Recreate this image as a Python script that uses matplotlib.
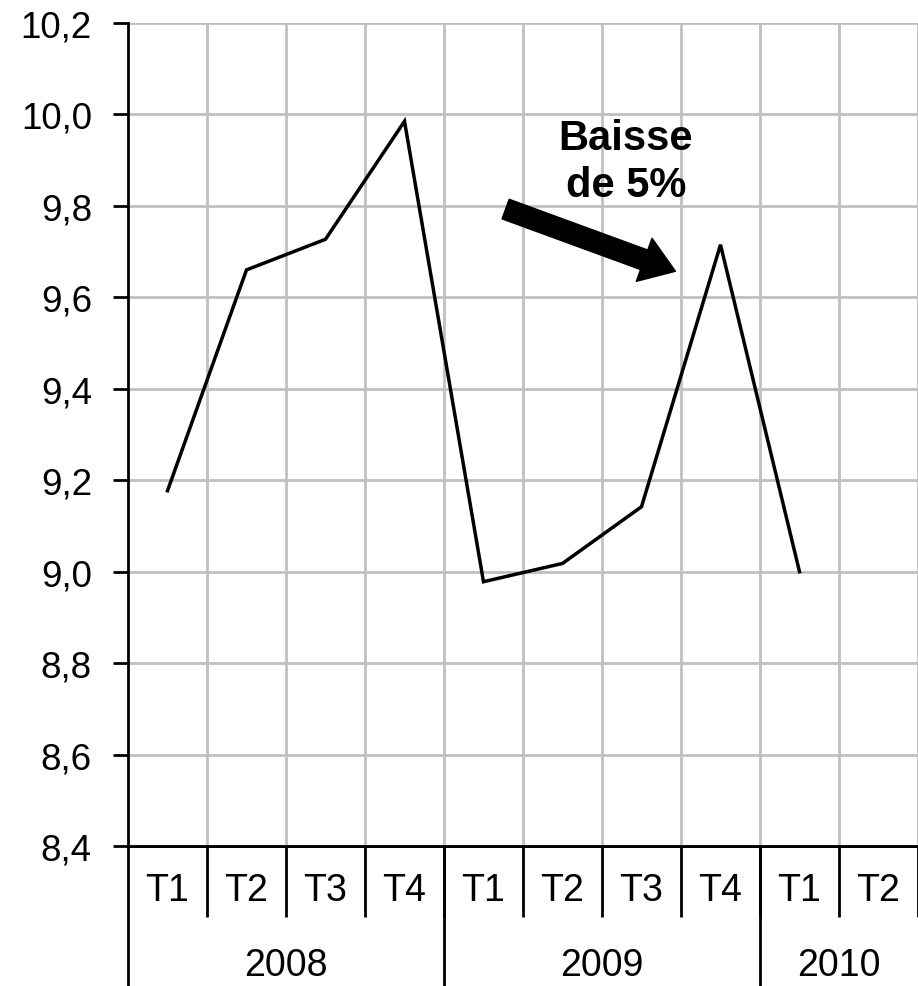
import matplotlib
matplotlib.use('Agg')
from matplotlib import pyplot as plt

plt.rcParams['font.family'] = ['Liberation Sans', 'DejaVu Sans']

quarters = ['T1', 'T2', 'T3', 'T4', 'T1', 'T2', 'T3', 'T4', 'T1', 'T2']
years = ['2008', '2009', '2010']
year_sizes = [4, 4, 2]
values = [9.177, 9.660, 9.727, 9.985, 8.978, 9.018, 9.142, 9.715, 9.000]
y_ticks = [8.4, 8.6, 8.8, 9.0, 9.2, 9.4, 9.6, 9.8, 10.0, 10.2]

FS = 27
W, H = 918, 987
fig = plt.figure(figsize=(W / 100, H / 100), dpi=100)
ax = fig.add_axes([128 / W, 1 - 847 / H, 790 / W, 823 / H])

x = list(range(len(values)))
ax.plot(x, values, color='black', lw=2.5, solid_joinstyle='miter', zorder=3)

ax.set_xlim(-0.5, len(quarters) - 0.5)
ax.set_ylim(y_ticks[0], y_ticks[-1])
ax.set_yticks(y_ticks)
ax.set_yticklabels([f'{v:.1f}'.replace('.', ',') for v in y_ticks], fontsize=26.5)

# quarter labels + separators
ax.set_xticks(range(len(quarters)))
ax.set_xticklabels(quarters, fontsize=FS)
bounds = [i + 0.5 for i in range(len(quarters))]
ax.set_xticks(bounds, minor=True)
ax.tick_params(axis='x', which='major', length=0, pad=19)
ax.tick_params(axis='x', which='minor', length=51, width=2, direction='out')
ax.tick_params(axis='y', length=11, width=2, direction='out', pad=15)

# year labels + long separators
starts = [sum(year_sizes[:i]) for i in range(len(year_sizes))]
year_centers = [s + n / 2 - 0.5 for s, n in zip(starts, year_sizes)]
year_bounds = [s - 0.5 for s in starts]
sec = ax.secondary_xaxis('bottom')
sec.set_xticks(year_centers)
sec.set_xticklabels(years, fontsize=FS)
sec.set_xticks(year_bounds, minor=True)
sec.tick_params(axis='x', which='major', length=0, pad=73)
sec.tick_params(axis='x', which='minor', length=110, width=2, direction='out')
sec.spines['bottom'].set_linewidth(2)

ax.grid(True, axis='y', which='major', color='#c0c0c0', lw=2)
ax.grid(True, axis='x', which='minor', color='#c0c0c0', lw=2)
ax.set_axisbelow(True)
for s in ['top', 'right']:
    ax.spines[s].set_visible(False)
for s in ['left', 'bottom']:
    ax.spines[s].set_linewidth(2)
    ax.spines[s].set_zorder(4)

ax.text(5.8, 9.897, 'Baisse\nde 5%', fontsize=30, fontweight='bold',
        ha='center', va='center', linespacing=1.2)
ax.annotate('', xy=(6.43, 9.657), xytext=(4.28, 9.793),
            arrowprops=dict(arrowstyle='simple,tail_width=0.5,head_width=1.1,head_length=0.8',
                            mutation_scale=30, color='black', shrinkA=0, shrinkB=0))

fig.savefig('out.png', dpi=100)
